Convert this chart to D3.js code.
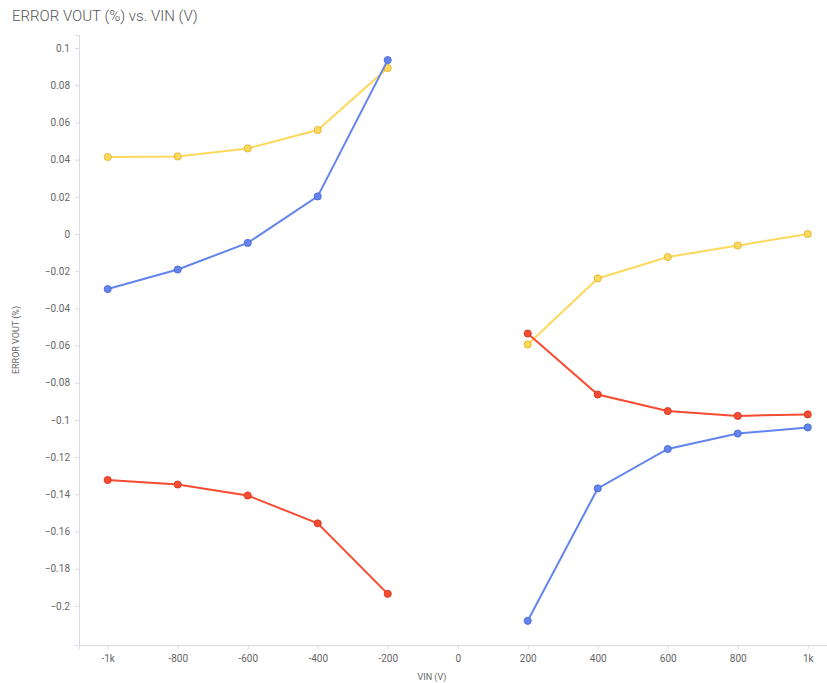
<!DOCTYPE html>
<html>
<head>
<meta charset="utf-8">
<script src="https://cdn.jsdelivr.net/npm/d3@7"></script>
<style>
  body { margin: 0; background: #fff; font-family: Roboto, "Noto Sans", sans-serif; }
  .tick text { fill: #666; font-size: 10px; font-family: Roboto, sans-serif; }
  .domain { stroke: #d8dbe3; }
  .tick line { stroke: #d8dbe3; }
</style>
</head>
<body>
<div id="chart"></div>
<script>
var vin = [-1000, -800, -600, -400, -200, 200, 400, 600, 800, 1000];
var yellowVals = [0.0414, 0.0417, 0.046, 0.0559, 0.0892, -0.0594, -0.0239, -0.0124, -0.0062, 0];
var blueVals = [-0.0296, -0.0191, -0.0048, 0.0202, 0.0935, -0.208, -0.1368, -0.1156, -0.1073, -0.104];
var redVals = [-0.1323, -0.1347, -0.1406, -0.1556, -0.1935, -0.0535, -0.0863, -0.0952, -0.0978, -0.097];
var xTicks = [-1000, -800, -600, -400, -200, 0, 200, 400, 600, 800, 1000];
var yTicks = [0.1, 0.08, 0.06, 0.04, 0.02, 0, -0.02, -0.04, -0.06, -0.08, -0.1, -0.12, -0.14, -0.16, -0.18, -0.2];

var series = [
  {name: "yellow", vals: yellowVals, color: "#fdd85c", stroke: "#d9ae2c"},
  {name: "blue", vals: blueVals, color: "#6384ee", stroke: "#4a67c9"},
  {name: "red", vals: redVals, color: "#f64c31", stroke: "#cc3420"}
];

var svg = d3.select("#chart").append("svg")
  .attr("width", 827)
  .attr("height", 683);

var x = d3.scaleLinear().domain([-1082, 1055]).range([79, 827]);
var y = d3.scaleLinear().domain([-0.221, 0.107]).range([645, 35]);

svg.append("text")
  .attr("x", 12).attr("y", 21)
  .attr("fill", "#555")
  .style("font-size", "15px")
  .style("font-weight", "300")
  .style("font-family", "Roboto, sans-serif")
  .text("ERROR VOUT (%) vs. VIN (V)");

var yAxis = d3.axisLeft(y).tickValues(yTicks).tickSize(4).tickPadding(5)
  .tickFormat(function(d){ return d3.format("~g")(+d.toFixed(2)); });
svg.append("g").attr("transform", "translate(79,0)").call(yAxis);

var xAxis = d3.axisBottom(x).tickValues(xTicks).tickSize(4).tickPadding(6)
  .tickFormat(function(d){ return Math.abs(d) == 1000 ? (d < 0 ? "-1k" : "1k") : d; });
svg.append("g").attr("transform", "translate(0,645)").call(xAxis);

svg.selectAll(".domain").attr("stroke", "#d8dbe3");

svg.append("text")
  .attr("transform", "translate(19,340) rotate(-90)")
  .attr("text-anchor", "middle")
  .attr("fill", "#666")
  .style("font-size", "9px")
  .text("ERROR VOUT (%)");

svg.append("text")
  .attr("x", 432).attr("y", 680)
  .attr("text-anchor", "middle")
  .attr("fill", "#666")
  .style("font-size", "9px")
  .text("VIN (V)");

var line = d3.line()
  .x(function(d){ return x(d.v); })
  .y(function(d){ return y(d.e); });

series.forEach(function(s){
  var pts = vin.map(function(v, i){ return {v: v, e: s.vals[i]}; });
  // gap between -200 and 200
  [pts.slice(0, 5), pts.slice(5)].forEach(function(seg){
    svg.append("path")
      .datum(seg)
      .attr("fill", "none")
      .attr("stroke", s.color)
      .attr("stroke-width", 2)
      .attr("d", line);
  });
  svg.append("g").selectAll("circle")
    .data(pts)
    .enter()
    .append("circle")
    .attr("cx", function(d){ return x(d.v); })
    .attr("cy", function(d){ return y(d.e); })
    .attr("r", 3.6)
    .attr("fill", s.color)
    .attr("stroke", s.stroke)
    .attr("stroke-width", 0.8);
});
</script>
</body>
</html>
